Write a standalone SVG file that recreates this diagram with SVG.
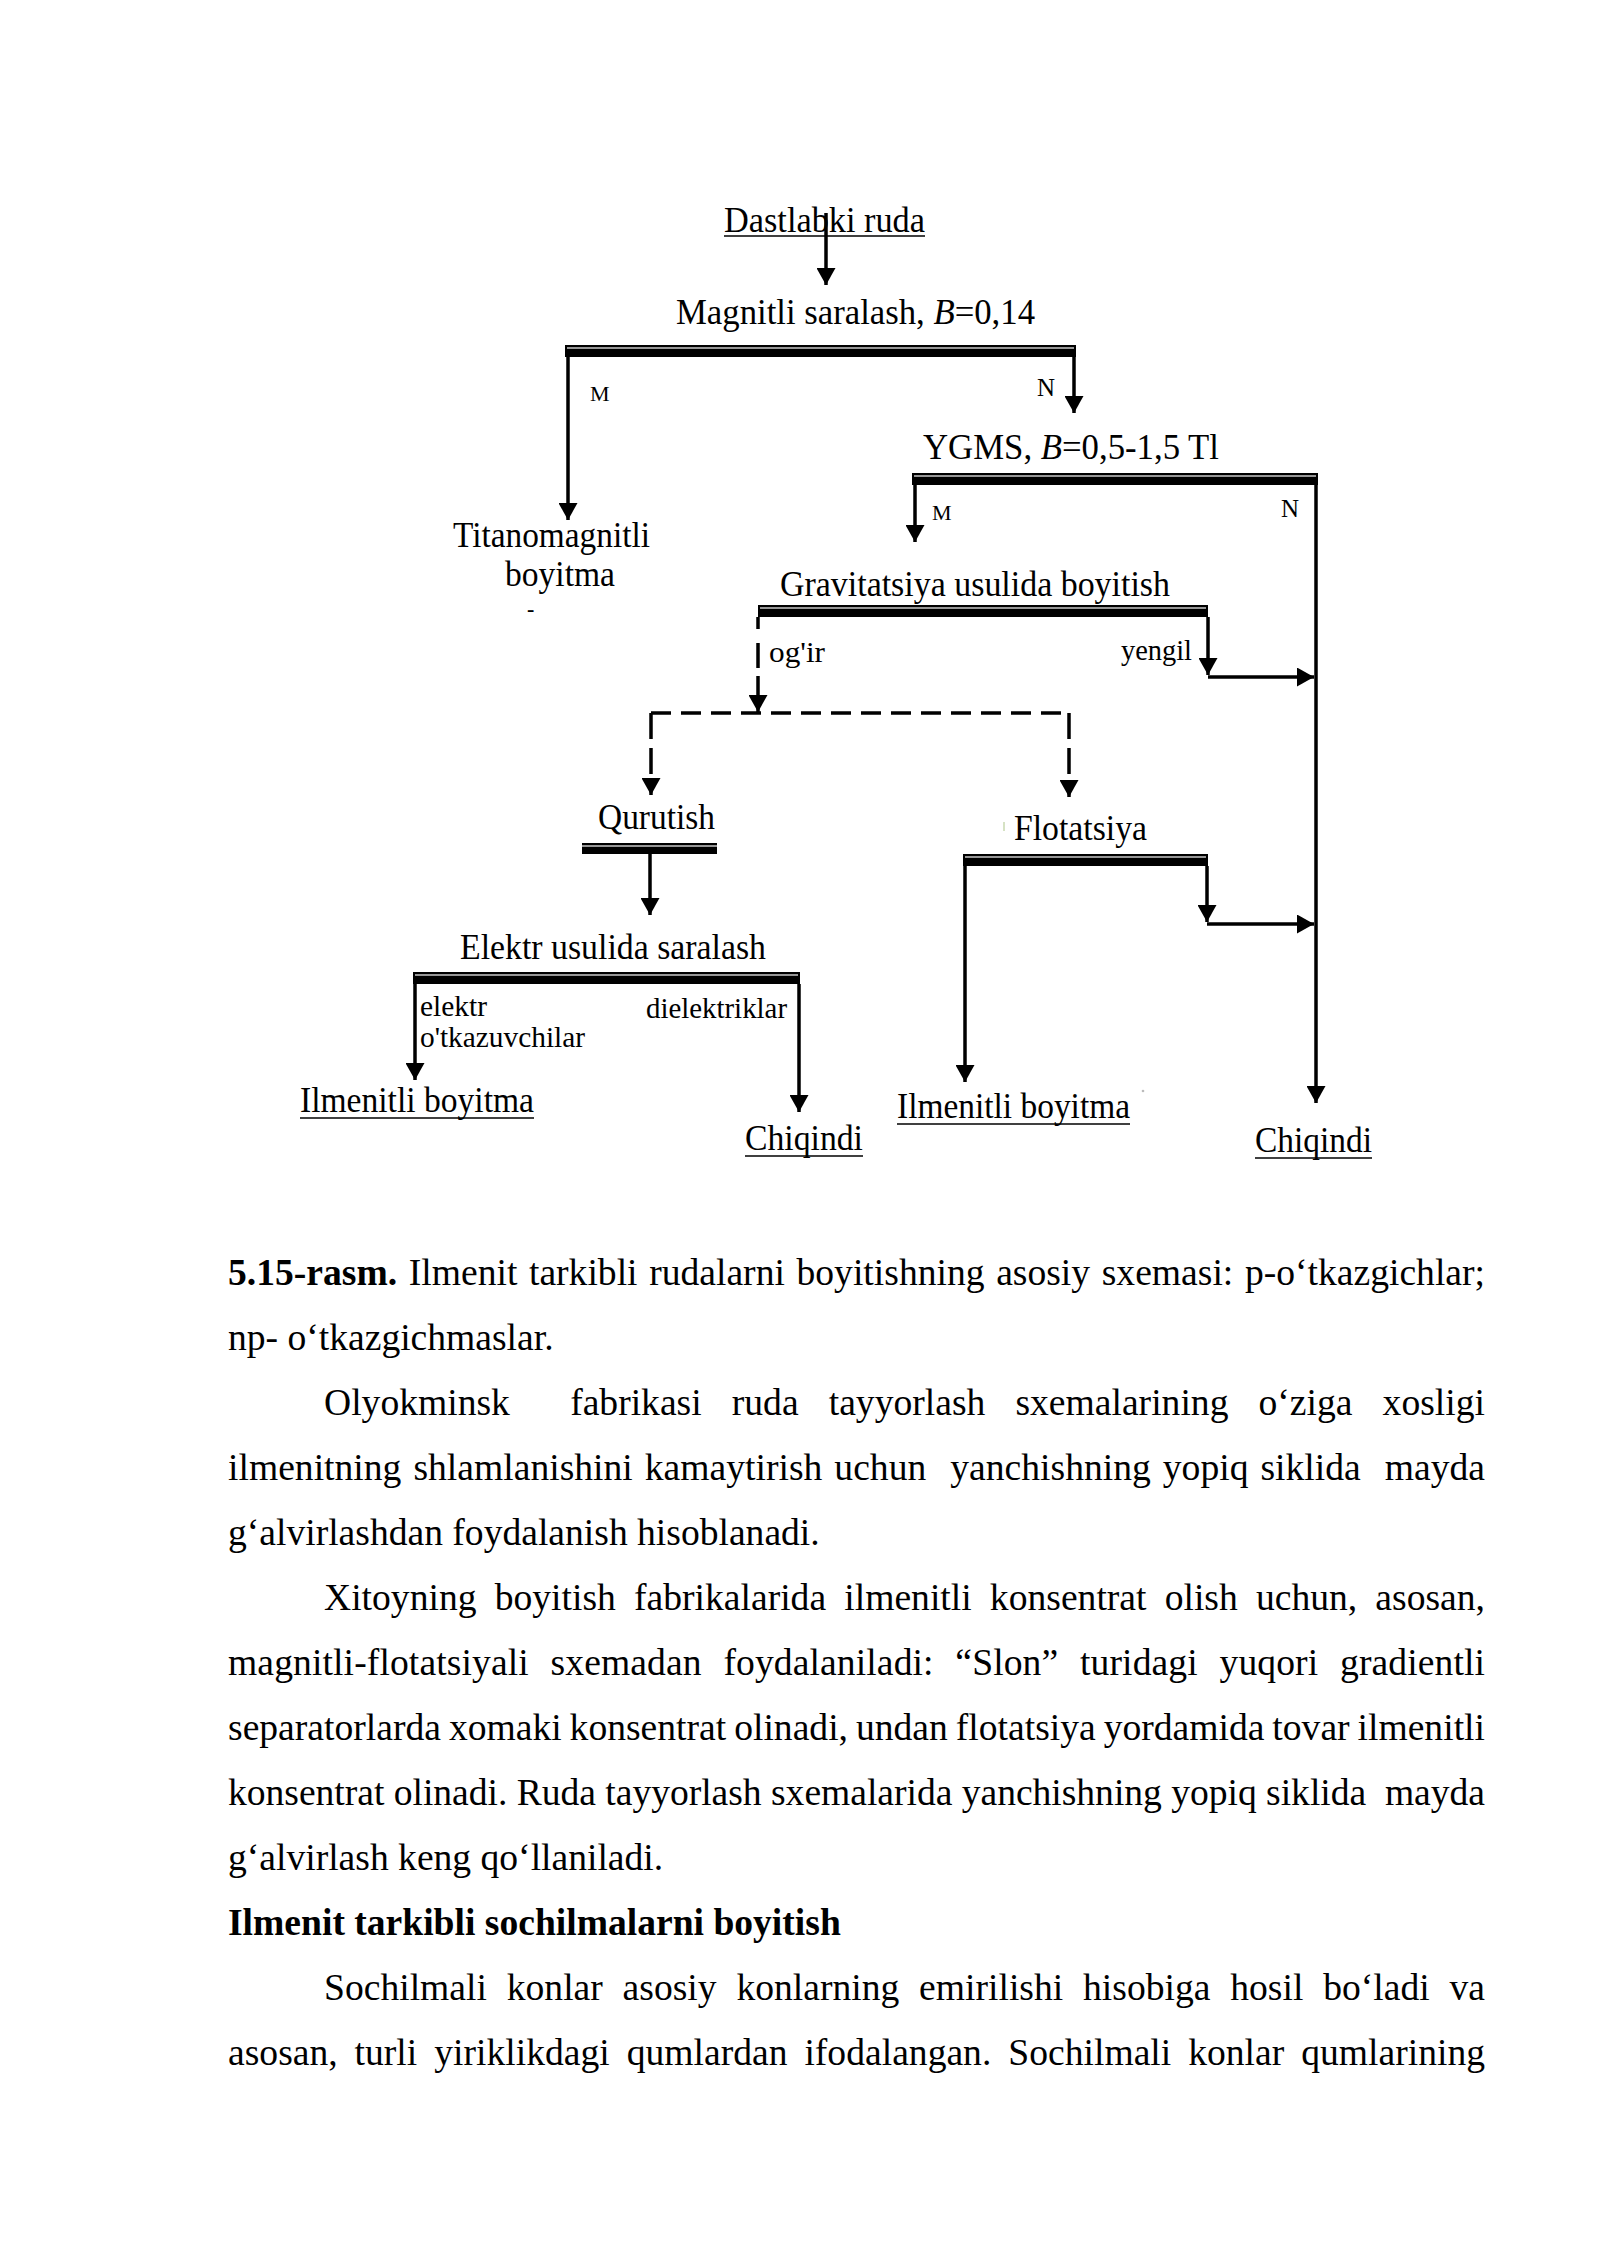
<svg xmlns="http://www.w3.org/2000/svg" width="1600" height="2262" viewBox="0 0 1600 2262">
<defs>
<style>
.t{font-family:"Liberation Serif","Times New Roman",serif;fill:#000}
.lbl{font-size:36px}
.sm{font-size:30px}
.mk{font-size:22px}
.nk{font-size:25px}
.body{font-size:37.6px}
.ln{stroke:#000;stroke-width:3.5;fill:none}
.dh{stroke-dasharray:20 10}
.dv{stroke-dasharray:26 9}
.ul{stroke:#000;stroke-width:1.6}
.bar{fill:#000}
.barhi{stroke:#c8c8c8;stroke-width:1.5}
</style>
<marker id="ah" viewBox="0 0 17 19" refX="17" refY="9.5" markerWidth="17" markerHeight="19" markerUnits="userSpaceOnUse" orient="auto">
<path d="M0,0 L17,9.5 L0,19 z" fill="#000"/>
</marker>
</defs>
<rect width="1600" height="2262" fill="#fff"/>

<g id="n-dastlabki">
<text class="t lbl" x="724" y="232" textLength="201" lengthAdjust="spacingAndGlyphs">Dastlabki ruda</text>
<line class="ul" x1="724" y1="236" x2="925" y2="236"/>
</g>

<g id="n-magnitli">
<text class="t lbl" x="676" y="324" textLength="359" lengthAdjust="spacingAndGlyphs">Magnitli saralash, <tspan font-style="italic">B</tspan>=0,14</text>
<rect class="bar" x="565" y="345" width="511" height="12"/>
<line class="barhi" x1="567" y1="348" x2="1074" y2="348"/>
</g>

<g id="n-titanomagnitli">
<text class="t lbl" x="453" y="547" textLength="197" lengthAdjust="spacingAndGlyphs">Titanomagnitli</text>
<text class="t lbl" x="505" y="586" textLength="110" lengthAdjust="spacingAndGlyphs">boyitma</text>
<text class="t mk" x="527" y="616" font-weight="bold">-</text>
</g>

<g id="n-ygms">
<text class="t lbl" x="923" y="459" textLength="296" lengthAdjust="spacingAndGlyphs">YGMS, <tspan font-style="italic">B</tspan>=0,5-1,5 Tl</text>
<rect class="bar" x="912" y="473" width="406" height="12"/>
<line class="barhi" x1="914" y1="476" x2="1316" y2="476"/>
</g>

<g id="n-gravitatsiya">
<text class="t lbl" x="780" y="596" textLength="390" lengthAdjust="spacingAndGlyphs">Gravitatsiya usulida boyitish</text>
<rect class="bar" x="758" y="605" width="450" height="12"/>
<line class="barhi" x1="760" y1="608" x2="1206" y2="608"/>
</g>

<g id="n-qurutish">
<text class="t lbl" x="598" y="829" textLength="117" lengthAdjust="spacingAndGlyphs">Qurutish</text>
<rect class="bar" x="582" y="843" width="135" height="11"/>
<line class="barhi" x1="582" y1="846" x2="717" y2="846"/>
</g>

<g id="n-flotatsiya">
<line x1="1004" y1="822" x2="1004" y2="831" stroke="#c8d8b0" stroke-width="1.5"/>
<text class="t lbl" x="1014" y="840" textLength="133" lengthAdjust="spacingAndGlyphs">Flotatsiya</text>
<rect class="bar" x="963" y="854" width="245" height="12"/>
<line class="barhi" x1="965" y1="857" x2="1206" y2="857"/>
</g>

<g id="n-elektr">
<text class="t lbl" x="460" y="959" textLength="306" lengthAdjust="spacingAndGlyphs">Elektr usulida saralash</text>
<rect class="bar" x="413" y="972" width="387" height="12"/>
<line class="barhi" x1="415" y1="975" x2="798" y2="975"/>
</g>

<g id="n-ilmenitli-1">
<text class="t lbl" x="300" y="1112" textLength="234" lengthAdjust="spacingAndGlyphs">Ilmenitli boyitma</text>
<line class="ul" x1="300" y1="1118" x2="534" y2="1118"/>
</g>

<g id="n-chiqindi-1">
<text class="t lbl" x="745" y="1150" textLength="118" lengthAdjust="spacingAndGlyphs">Chiqindi</text>
<line class="ul" x1="745" y1="1156" x2="863" y2="1156"/>
</g>

<g id="n-ilmenitli-2">
<text class="t lbl" x="897" y="1118" textLength="233" lengthAdjust="spacingAndGlyphs">Ilmenitli boyitma</text>
<line class="ul" x1="897" y1="1124" x2="1130" y2="1124"/>
<circle cx="1143" cy="1091" r="1.3" fill="#bbb"/>
</g>

<g id="n-chiqindi-2">
<text class="t lbl" x="1255" y="1152" textLength="117" lengthAdjust="spacingAndGlyphs">Chiqindi</text>
<line class="ul" x1="1255" y1="1158" x2="1372" y2="1158"/>
</g>

<g id="connectors">
<path class="ln" d="M826,213 V285" marker-end="url(#ah)"/>
<path class="ln" d="M568,357 V520" marker-end="url(#ah)"/>
<path class="ln" d="M1074,357 V413" marker-end="url(#ah)"/>
<path class="ln" d="M915,485 V542" marker-end="url(#ah)"/>
<path class="ln" d="M1316,485 V1103" marker-end="url(#ah)"/>
<path class="ln" d="M758,617 V712" stroke-dasharray="12 14 25 8 60" marker-end="url(#ah)"/>
<path class="ln" d="M1208,617 V675" marker-end="url(#ah)"/>
<path class="ln" d="M1208,677 H1314" marker-end="url(#ah)"/>
<path class="ln dh" d="M651,713 H1069"/>
<path class="ln dv" d="M651,713 V795" marker-end="url(#ah)"/>
<path class="ln dv" d="M1069,713 V797" marker-end="url(#ah)"/>
<path class="ln" d="M650,854 V915" marker-end="url(#ah)"/>
<path class="ln" d="M965,866 V1082" marker-end="url(#ah)"/>
<path class="ln" d="M1207,866 V922" marker-end="url(#ah)"/>
<path class="ln" d="M1207,924 H1314" marker-end="url(#ah)"/>
<path class="ln" d="M415,984 V1080" marker-end="url(#ah)"/>
<path class="ln" d="M799,984 V1112" marker-end="url(#ah)"/>
<g id="edge-labels">
<text class="t mk" x="590" y="401">M</text>
<text class="t nk" x="1037" y="396">N</text>
<text class="t mk" x="932" y="520">M</text>
<text class="t nk" x="1281" y="517">N</text>
<text class="t sm" x="769" y="662" textLength="56" lengthAdjust="spacingAndGlyphs">og'ir</text>
<text class="t sm" x="1121" y="660" textLength="71" lengthAdjust="spacingAndGlyphs">yengil</text>
<text class="t sm" x="420" y="1016" textLength="67" lengthAdjust="spacingAndGlyphs">elektr</text>
<text class="t sm" x="420" y="1047" textLength="165" lengthAdjust="spacingAndGlyphs">o'tkazuvchilar</text>
<text class="t sm" x="646" y="1018" textLength="141" lengthAdjust="spacingAndGlyphs">dielektriklar</text>
</g>
</g>

<g id="body-text">
<text class="t body" x="228" y="1285" textLength="1257" lengthAdjust="spacing" style="word-spacing:2.2px"><tspan font-weight="bold">5.15-rasm.</tspan> Ilmenit tarkibli rudalarni boyitishning asosiy sxemasi: p-o‘tkazgichlar;</text>
<text class="t body" x="228" y="1350">np- o‘tkazgichmaslar.</text>
<text class="t body" x="324" y="1415" xml:space="preserve" textLength="1161" lengthAdjust="spacing" style="word-spacing:20.7px">Olyokminsk  fabrikasi ruda tayyorlash sxemalarining o‘ziga xosligi</text>
<text class="t body" x="228" y="1480" xml:space="preserve" textLength="1257" lengthAdjust="spacing" style="word-spacing:2.6px">ilmenitning shlamlanishini kamaytirish uchun  yanchishning yopiq siklida  mayda</text>
<text class="t body" x="228" y="1545">g‘alvirlashdan foydalanish hisoblanadi.</text>
<text class="t body" x="324" y="1610" textLength="1161" lengthAdjust="spacing" style="word-spacing:8.7px">Xitoyning boyitish fabrikalarida ilmenitli konsentrat olish uchun, asosan,</text>
<text class="t body" x="228" y="1675" textLength="1257" lengthAdjust="spacing" style="word-spacing:12.2px">magnitli-flotatsiyali sxemadan foydalaniladi: “Slon” turidagi yuqori gradientli</text>
<text class="t body" x="228" y="1740" textLength="1257" lengthAdjust="spacing" style="word-spacing:-1.5px">separatorlarda xomaki konsentrat olinadi, undan flotatsiya yordamida tovar ilmenitli</text>
<text class="t body" x="228" y="1805" xml:space="preserve" textLength="1257" lengthAdjust="spacing">konsentrat olinadi. Ruda tayyorlash sxemalarida yanchishning yopiq siklida  mayda</text>
<text class="t body" x="228" y="1870">g‘alvirlash keng qo‘llaniladi.</text>
<text class="t body" x="228" y="1935" font-weight="bold">Ilmenit tarkibli sochilmalarni boyitish</text>
<text class="t body" x="324" y="2000" textLength="1161" lengthAdjust="spacing" style="word-spacing:10.4px">Sochilmali konlar asosiy konlarning emirilishi hisobiga hosil bo‘ladi va</text>
<text class="t body" x="228" y="2065" textLength="1257" lengthAdjust="spacing" style="word-spacing:7.5px">asosan, turli yiriklikdagi qumlardan ifodalangan. Sochilmali konlar qumlarining</text>
</g>
</svg>
